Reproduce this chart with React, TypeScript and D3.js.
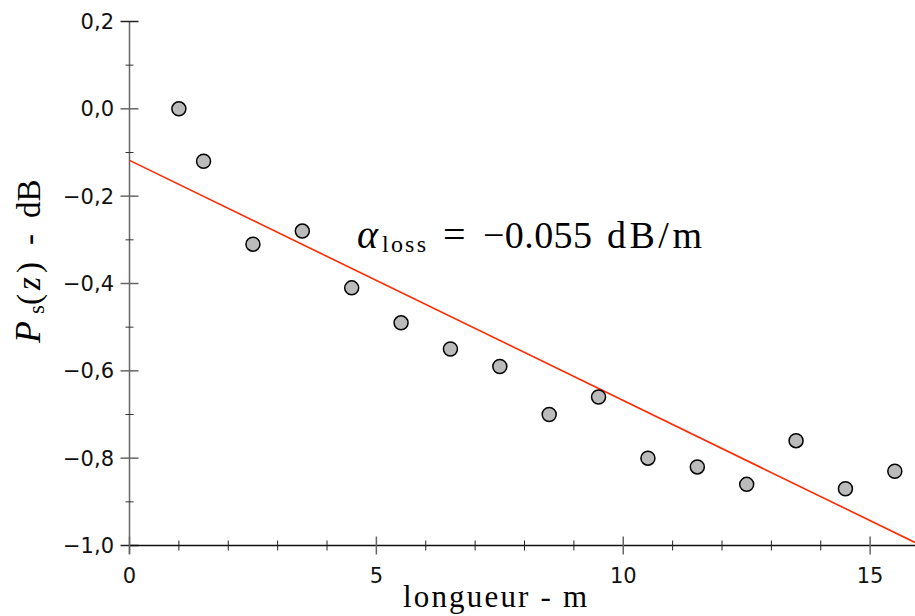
import React from "react";
import * as d3 from "d3";

const lengths = [1, 1.5, 2.5, 3.5, 4.5, 5.5, 6.5, 7.5, 8.5, 9.5, 10.5, 11.5, 12.5, 13.5, 14.5, 15.5];
const powers = [0.0, -0.12, -0.31, -0.28, -0.41, -0.49, -0.55, -0.59, -0.7, -0.66, -0.8, -0.82, -0.86, -0.76, -0.87, -0.83];
const fitIntercept = -0.118;
const fitSlope = -0.055;
const xMajorTicks = [0, 5, 10, 15];
const xMinorTicks = [1, 2, 3, 4, 6, 7, 8, 9, 11, 12, 13, 14];
const yMajorTicks = [0.2, 0.0, -0.2, -0.4, -0.6, -0.8, -1.0];
const yMinorTicks = [0.1, -0.1, -0.3, -0.5, -0.7, -0.9];
const fmtY = (v: number) => v.toFixed(1).replace(".", ",").replace("-", "\u2212");

export default function App() {
  const W = 915, H = 616;
  const x = d3.scaleLinear().domain([0, 16]).range([129.5, 919.5]);
  const y = d3.scaleLinear().domain([-1, 0.2]).range([545.5, 21.5]);
  const xEnd = x.invert(915);
  const line = d3.line<number>().x(d => x(d)).y(d => y(fitIntercept + fitSlope * d));
  const tickFont = "'DejaVu Sans', Verdana, sans-serif";
  const serif = "'Liberation Serif', 'DejaVu Serif', serif";
  return (
    <svg width={W} height={H} style={{ position: "absolute", left: 0, top: 0 }}>
      <rect width={W} height={H} fill="white" />
      {/* y axis */}
      <line x1={x(0)} x2={x(0)} y1={y(0.2)} y2={554} stroke="#666" strokeWidth={1.5} />
      {yMajorTicks.map(t => (
        <g key={"ym" + t}>
          <line x1={x(0) - 9} x2={x(0) + 9} y1={y(t)} y2={y(t)} stroke={t === 0.2 || t === -1 ? "#222" : "#666"} strokeWidth={1.5} />
          <text x={114} y={y(t)} dy="0.36em" textAnchor="end" fontFamily={tickFont} fontSize={21} fill="#111">{fmtY(t)}</text>
        </g>
      ))}
      {yMinorTicks.map(t => (
        <line key={"yn" + t} x1={x(0) - 4} x2={x(0) + 4} y1={y(t)} y2={y(t)} stroke="#333" strokeWidth={1} />
      ))}
      {/* x axis */}
      <line x1={x(0)} x2={W} y1={y(-1)} y2={y(-1)} stroke="#111" strokeWidth={1.5} />
      {xMajorTicks.map(t => (
        <g key={"xm" + t}>
          <line x1={x(t)} x2={x(t)} y1={y(-1) - 9} y2={y(-1) + 9} stroke="#666" strokeWidth={1.5} />
          <text x={x(t)} y={583} textAnchor="middle" fontFamily={tickFont} fontSize={21} fill="#111">{t}</text>
        </g>
      ))}
      {xMinorTicks.map(t => (
        <line key={"xn" + t} x1={x(t)} x2={x(t)} y1={y(-1) - 5} y2={y(-1) + 5} stroke="#222" strokeWidth={1} />
      ))}
      {/* fit line */}
      <path d={line([0, xEnd]) || ""} fill="none" stroke="#ff2a00" strokeWidth={1.6} />
      {/* points */}
      {lengths.map((l, i) => (
        <circle key={i} cx={x(l)} cy={y(powers[i])} r={7} fill="#bbbbbb" stroke="#000" strokeWidth={1.5} />
      ))}
      {/* annotation */}
      <g fontFamily={serif} fill="#000">
        <text x={357} y={248} fontSize={40} fontStyle="italic">α</text>
        <text x={382} y={252} fontSize={24} textLength={44} lengthAdjust="spacing">loss</text>
        <text x={443} y={248} fontSize={40}>=</text>
        <text x={483} y={248} fontSize={38} textLength={109} lengthAdjust="spacing">−0.055</text>
        <text x={607} y={248} fontSize={38} textLength={95} lengthAdjust="spacing">dB/m</text>
      </g>
      {/* axis titles */}
      <text x={495} y={607} textAnchor="middle" fontFamily={serif} fontSize={31} fill="#000" textLength={184} lengthAdjust="spacing">longueur - m</text>
      <g transform="rotate(-90)" fontFamily={serif} fill="#000" fontSize={33}>
        <text x={-343} y={40} fontStyle="italic" fontSize={36}>P</text>
        <text x={-314} y={44} fontSize={23}>s</text>
        <text x={-305} y={40}>(</text>
        <text x={-290} y={40} fontStyle="italic">z</text>
        <text x={-273} y={40}>)</text>
        <text x={-245} y={40}>-</text>
        <text x={-218} y={40}>dB</text>
      </g>
    </svg>
  );
}
